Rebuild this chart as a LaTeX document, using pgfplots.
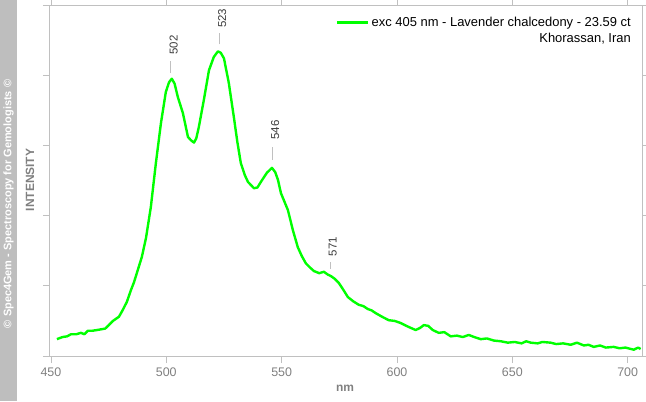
\documentclass[border=0pt]{standalone}
\usepackage{pgfplots}
\pgfplotsset{compat=1.18}
\usepackage{fontspec}
\setmainfont{Liberation Sans}
\definecolor{specgreen}{RGB}{0,255,0}
\definecolor{axgray}{RGB}{192,192,192}
\definecolor{txtgray}{RGB}{128,128,128}
\definecolor{stripgray}{RGB}{190,190,190}
\definecolor{annot}{RGB}{60,60,60}
\begin{document}
\begin{tikzpicture}[x=1bp,y=1bp]
\useasboundingbox (-50,-45) rectangle (596,356);
\fill[stripgray] (-50,-45) rectangle (-33,356);
\node[rotate=90, text=white, font=\bfseries\fontsize{11}{13}\selectfont] at (-41.5,152) {© Spec4Gem - Spectroscopy for Gemologists ©};
\node[rotate=90, text=txtgray, font=\bfseries\fontsize{12}{14}\selectfont] at (-20,176) {INTENSITY};
\node[text=txtgray, font=\bfseries\fontsize{12}{14}\selectfont] at (295,-32) {nm};
\begin{axis}[
  at={(0,0)}, anchor=south west, scale only axis,
  width=592bp, height=351bp,
  xmin=449.6, xmax=706.2, ymin=0, ymax=5,
  xtick={450,500,...,700},
  ytick={0,1,2,3,4,5}, yticklabels={},
  tick align=outside, major tick length=7bp,
  tick style={axgray, line width=0.8bp},
  axis line style={axgray, line width=1bp},
  xticklabel style={text=txtgray, font=\fontsize{12.5}{14}\selectfont, yshift=-1bp},
  /pgf/number format/assume math mode=true,
  /pgf/number format/1000 sep={},
  clip=false,
  legend cell align=right,
  legend style={draw=none, fill=none, at={(1,1)}, anchor=north east,
    xshift=-8bp, yshift=-9bp, font=\fontsize{13}{15}\selectfont,
    row sep=1.5bp, inner sep=1bp},
  legend image code/.code={\draw[#1] (0bp,0bp) -- (31bp,0bp);},
]
\addplot[specgreen, line width=2.4bp, line join=round] coordinates {
(452.6,0.24) (455.0,0.27) (457.0,0.28) (458.7,0.31) (461.0,0.31) (463.0,0.33) (464.5,0.31)
(466.0,0.36) (468.0,0.36) (470.0,0.37) (471.7,0.38) (473.5,0.39) (475.1,0.44) (476.9,0.50)
(479.5,0.56) (481.2,0.66) (482.9,0.77) (484.7,0.94) (486.0,1.05) (487.7,1.23) (489.4,1.41)
(491.2,1.68) (493.3,2.12) (495.5,2.75) (497.7,3.32) (499.8,3.76) (501.2,3.90) (502.4,3.95)
(503.6,3.88) (505.0,3.69) (507.2,3.46) (509.4,3.12) (510.8,3.07) (512.0,3.04) (513.0,3.10)
(514.1,3.26) (516.3,3.65) (518.5,4.07) (520.6,4.26) (522.4,4.34) (523.6,4.32) (525.0,4.24)
(527.1,3.89) (529.3,3.40) (530.8,3.05) (532.3,2.75) (534.0,2.58) (535.4,2.48) (538.0,2.39)
(539.5,2.40) (541.0,2.48) (543.6,2.61) (545.8,2.68) (547.2,2.62) (548.4,2.51) (549.7,2.32)
(552.7,2.08) (554.9,1.79) (557.0,1.55) (558.8,1.42) (560.5,1.32) (562.3,1.26) (564.0,1.21)
(566.3,1.18) (568.3,1.20) (570.0,1.16) (571.3,1.14) (573.0,1.10) (574.8,1.04) (576.8,0.94)
(578.7,0.84) (581.0,0.78) (583.4,0.73) (585.5,0.71) (587.3,0.67) (589.0,0.65) (590.8,0.61)
(593.5,0.56) (596.4,0.51) (599.0,0.50) (601.6,0.47) (604.0,0.43) (606.0,0.40) (608.1,0.37)
(610.0,0.40) (611.6,0.44) (613.5,0.43) (615.5,0.37) (618.1,0.33) (620.5,0.34) (623.3,0.28)
(626.0,0.29) (628.5,0.27) (631.1,0.30) (633.5,0.27) (636.3,0.24) (639.0,0.25) (642.0,0.22)
(645.0,0.21) (648.0,0.19) (651.0,0.20) (654.0,0.18) (656.0,0.21) (658.0,0.19) (661.0,0.18)
(663.0,0.20) (666.6,0.19) (669.0,0.17) (672.0,0.18) (675.3,0.16) (678.0,0.19) (681.0,0.15)
(683.0,0.16) (685.3,0.13) (688.0,0.15) (690.5,0.12) (693.9,0.13) (696.5,0.11) (699.0,0.12)
(702.6,0.09) (704.5,0.12) (705.6,0.10)
};
\addlegendentry{exc 405 nm - Lavender chalcedony - 23.59 ct}
\addlegendimage{empty legend}
\addlegendentry{Khorassan, Iran}
\draw[axgray, line width=0.8bp] (axis cs:502,4.03) -- (axis cs:502,4.20);
\draw[axgray, line width=0.8bp] (axis cs:523,4.44) -- (axis cs:523,4.60);
\draw[axgray, line width=0.8bp] (axis cs:546,2.79) -- (axis cs:546,2.98);
\draw[axgray, line width=0.8bp] (axis cs:571,1.24) -- (axis cs:571,1.34);
\tikzset{pk/.style={rotate=90, anchor=west, text=annot, inner sep=0pt, font=\fontsize{11.5}{13}\selectfont}}
\node[pk] at (axis cs:503.2,4.29) {502};
\node[pk] at (axis cs:524.2,4.67) {523};
\node[pk] at (axis cs:547.2,3.08) {546};
\node[pk] at (axis cs:572.2,1.42) {571};
\end{axis}
\end{tikzpicture}
\end{document}
